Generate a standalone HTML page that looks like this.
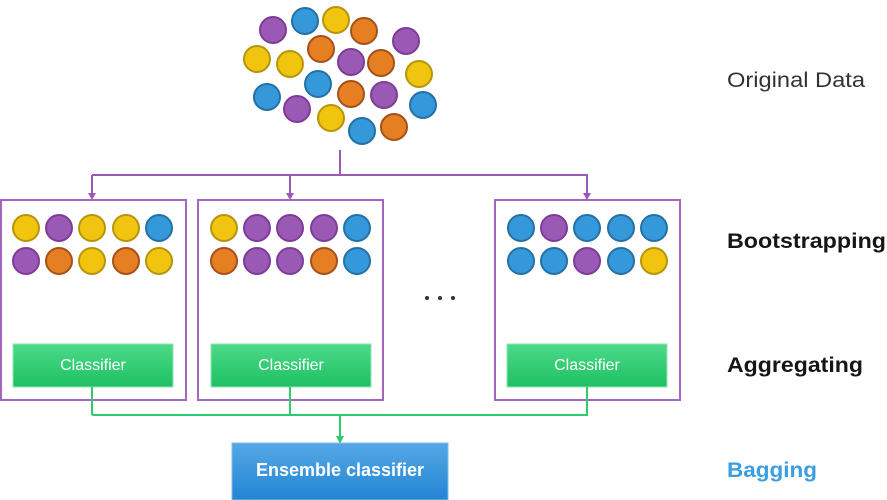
<!DOCTYPE html>
<html><head><meta charset="utf-8"><style>
html,body{margin:0;padding:0;background:#fff;}
svg{display:block;font-family:"Liberation Sans",sans-serif;}
</style></head><body>
<svg width="887" height="500" viewBox="0 0 887 500" xmlns="http://www.w3.org/2000/svg">
<defs>
<linearGradient id="g" x1="0" y1="0" x2="0" y2="1"><stop offset="0" stop-color="#4cd98a"/><stop offset="1" stop-color="#1fc162"/></linearGradient>
<linearGradient id="b" x1="0" y1="0" x2="0" y2="1"><stop offset="0" stop-color="#56a8e6"/><stop offset="1" stop-color="#2284d4"/></linearGradient>
<g id="P"><circle r="13" fill="#9b59b6" stroke="#7d3c98" stroke-width="2"/></g>
<g id="B"><circle r="13" fill="#3498db" stroke="#2471a3" stroke-width="2"/></g>
<g id="Y"><circle r="13" fill="#f1c40f" stroke="#b7950b" stroke-width="2"/></g>
<g id="O"><circle r="13" fill="#e67e22" stroke="#a5511a" stroke-width="2"/></g>
</defs>
<use href="#P" x="273" y="30"/><use href="#B" x="305" y="21"/><use href="#Y" x="336" y="20"/><use href="#O" x="364" y="31"/><use href="#P" x="406" y="41"/>
<use href="#Y" x="257" y="59"/><use href="#Y" x="290" y="64"/><use href="#O" x="321" y="49"/><use href="#P" x="351" y="62"/><use href="#O" x="381" y="63"/>
<use href="#Y" x="419" y="74"/><use href="#B" x="318" y="84"/><use href="#O" x="351" y="94"/><use href="#P" x="384" y="95"/><use href="#B" x="267" y="97"/>
<use href="#P" x="297" y="109"/><use href="#Y" x="331" y="118"/><use href="#B" x="362" y="131"/><use href="#O" x="394" y="127"/><use href="#B" x="423" y="105"/>
<g stroke="#9b59b6" stroke-width="2" fill="none">
<line x1="340" y1="150" x2="340" y2="175"/>
<line x1="92" y1="175" x2="588" y2="175"/>
<line x1="92" y1="175" x2="92" y2="194"/><line x1="290" y1="175" x2="290" y2="194"/><line x1="587" y1="175" x2="587" y2="194"/>
</g>
<g fill="#9b59b6"><path d="M88,193 L96,193 L92,200Z"/><path d="M286,193 L294,193 L290,200Z"/><path d="M583,193 L591,193 L587,200Z"/></g>
<g fill="none" stroke="#a566c0" stroke-width="2">
<rect x="1" y="200" width="185" height="200"/><rect x="198" y="200" width="185" height="200"/><rect x="495" y="200" width="185" height="200"/>
</g>
<use href="#Y" x="26" y="228"/><use href="#P" x="59" y="228"/><use href="#Y" x="92" y="228"/><use href="#Y" x="126" y="228"/><use href="#B" x="159" y="228"/>
<use href="#P" x="26" y="261"/><use href="#O" x="59" y="261"/><use href="#Y" x="92" y="261"/><use href="#O" x="126" y="261"/><use href="#Y" x="159" y="261"/>
<use href="#Y" x="224" y="228"/><use href="#P" x="257" y="228"/><use href="#P" x="290" y="228"/><use href="#P" x="324" y="228"/><use href="#B" x="357" y="228"/>
<use href="#O" x="224" y="261"/><use href="#P" x="257" y="261"/><use href="#P" x="290" y="261"/><use href="#O" x="324" y="261"/><use href="#B" x="357" y="261"/>
<use href="#B" x="521" y="228"/><use href="#P" x="554" y="228"/><use href="#B" x="587" y="228"/><use href="#B" x="621" y="228"/><use href="#B" x="654" y="228"/>
<use href="#B" x="521" y="261"/><use href="#B" x="554" y="261"/><use href="#P" x="587" y="261"/><use href="#B" x="621" y="261"/><use href="#Y" x="654" y="261"/>
<g fill="#333"><circle cx="427" cy="298" r="2"/><circle cx="440" cy="298" r="2"/><circle cx="453" cy="298" r="2"/></g>
<g stroke="#8de6b0" stroke-width="1">
<rect x="13" y="344" width="160" height="43" fill="url(#g)"/>
<rect x="211" y="344" width="160" height="43" fill="url(#g)"/>
<rect x="507" y="344" width="160" height="43" fill="url(#g)"/>
</g>
<g fill="#fff" font-size="16" text-anchor="middle">
<text x="93" y="370">Classifier</text><text x="291" y="370">Classifier</text><text x="587" y="370">Classifier</text>
</g>
<g stroke="#2ecc71" stroke-width="2" fill="none">
<line x1="92" y1="387" x2="92" y2="415"/><line x1="290" y1="387" x2="290" y2="415"/><line x1="587" y1="387" x2="587" y2="415"/>
<line x1="92" y1="415" x2="588" y2="415"/>
<line x1="340" y1="415" x2="340" y2="437"/>
</g>
<path d="M336,436 L344,436 L340,444Z" fill="#2ecc71"/>
<rect x="232" y="443" width="216" height="57" fill="url(#b)" stroke="#7fbce9" stroke-width="1"/>
<text x="340" y="476" font-size="18" font-weight="bold" fill="#fff" text-anchor="middle">Ensemble classifier</text>
<text x="727" y="87" font-size="21" fill="#333" textLength="138" lengthAdjust="spacingAndGlyphs">Original Data</text>
<text x="727" y="248" font-size="21" font-weight="bold" fill="#161616" textLength="159" lengthAdjust="spacingAndGlyphs">Bootstrapping</text>
<text x="727" y="372" font-size="21" font-weight="bold" fill="#161616" textLength="136" lengthAdjust="spacingAndGlyphs">Aggregating</text>
<text x="727" y="477" font-size="21" font-weight="bold" fill="#3a9ee2" textLength="90" lengthAdjust="spacingAndGlyphs">Bagging</text>
</svg>
</body></html>
